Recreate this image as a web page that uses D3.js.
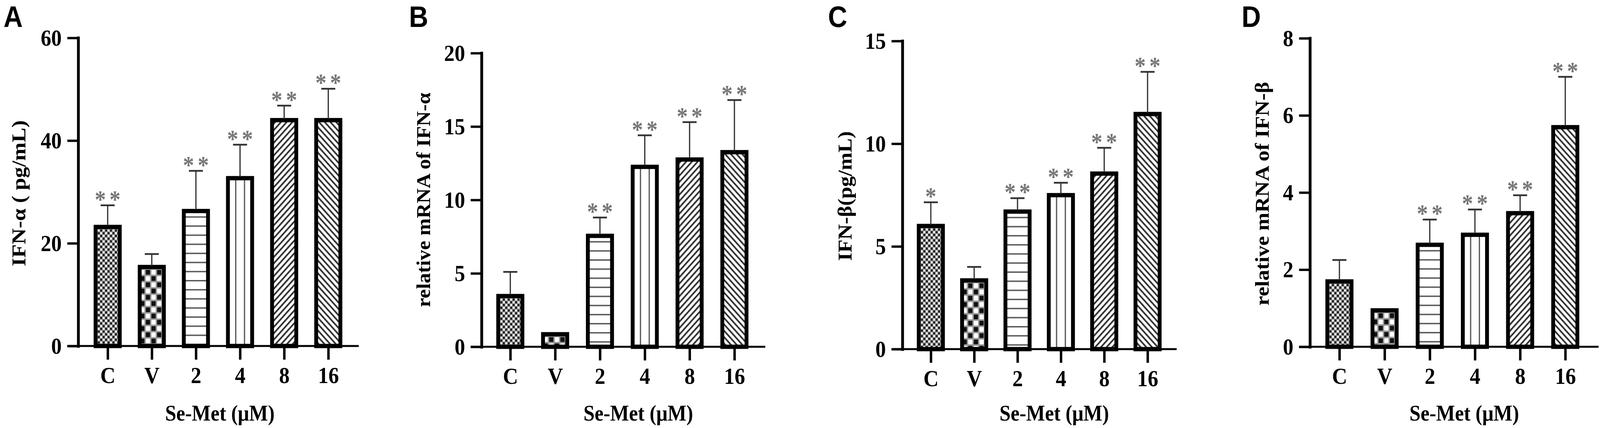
<!DOCTYPE html>
<meta charset="utf-8">
<head>
<style>
html, body { margin: 0; padding: 0; background: #fff; overflow: hidden; }
#chart svg { display: block; width: 100vw; height: 100vh; }
text { font-family: "Liberation Serif", "Times New Roman", serif; font-weight: bold; fill: #000; }
.letter { font-family: "Liberation Sans", Arial, sans-serif; font-size: 76px; }
.tick text { font-size: 60px; }
.stars { fill: #777; font-size: 64px; }
</style>
</head>
<body>
<div id="chart"></div>
<script src="https://d3js.org/d3.v7.min.js"></script>
<script>

// groups on the x axis
var groups = ["C", "V", "2", "4", "8", "16"];

// A: IFN-a protein
var meanA = [23.6, 15.8, 26.7, 33.1, 44.4, 44.4];
var sdA = [3.8, 2.1, 7.4, 6.1, 2.4, 5.7];
var starsA = ["**", "", "**", "**", "**", "**"];
var ticksA = [0, 20, 40, 60];

// B: IFN-a mRNA
var meanB = [3.6, 1.0, 7.7, 12.4, 12.9, 13.4];
var sdB = [1.5, 0, 1.1, 2.0, 2.4, 3.4];
var starsB = ["", "", "**", "**", "**", "**"];
var ticksB = [0, 5, 10, 15, 20];

// C: IFN-b protein
var meanC = [6.1, 3.45, 6.8, 7.6, 8.65, 11.55];
var sdC = [1.05, 0.55, 0.55, 0.5, 1.15, 1.95];
var starsC = ["*", "", "**", "**", "**", "**"];
var ticksC = [0, 5, 10, 15];

// D: IFN-b mRNA
var meanD = [1.75, 1.0, 2.7, 2.96, 3.52, 5.75];
var sdD = [0.5, 0, 0.6, 0.6, 0.41, 1.25];
var starsD = ["", "", "**", "**", "**", "**"];
var ticksD = [0, 2, 4, 6, 8];

var letters = ["A", "B", "C", "D"];
var yTitles = ["IFN-\u03b1 ( pg/mL)", "relative mRNA of IFN-\u03b1", "IFN-\u03b2(pg/mL)", "relative mRNA of IFN-\u03b2"];
var xTitle = "Se-Met (\u03bcM)";

// layout of each panel (pixels)
var layout = [
  {ax: 223, y0: 886, yTop: 97, x0: 307, x1: 936, xEnd: 1023, bx: 72, cy: 495, tlen: 374, xt: 627, lx: 10},
  {ax: 1373, y0: 888, yTop: 136, x0: 1455, x1: 2094, xEnd: 2182, bx: 1226, cy: 512, tlen: 549, xt: 1820, lx: 1166},
  {ax: 2573, y0: 894, yTop: 105, x0: 2654, x1: 3272, xEnd: 3355, bx: 2428, cy: 502, tlen: 332, xt: 3006, lx: 2361},
  {ax: 3735, y0: 888, yTop: 98, x0: 3819, x1: 4463, xEnd: 4558, bx: 3618, cy: 496, tlen: 573, xt: 4175, lx: 3540}
];

var panels = [
  {mean: meanA, sd: sdA, stars: starsA, ticks: ticksA},
  {mean: meanB, sd: sdB, stars: starsB, ticks: ticksB},
  {mean: meanC, sd: sdC, stars: starsC, ticks: ticksC},
  {mean: meanD, sd: sdD, stars: starsD, ticks: ticksD}
];

var barW = 80, border = 11, tickLen = 31, capW = 40;

var svg = d3.select("#chart")
  .append("svg")
    .attr("viewBox", "0 0 4562 1096")
    .attr("preserveAspectRatio", "none");

var defs = svg.append("defs");

// one fill pattern per bar, anchored to the inner corner of the bar
function makePattern(id, kind, ox, oy) {
  var p = defs.append("pattern")
    .attr("id", id)
    .attr("patternUnits", "userSpaceOnUse");
  if (kind == 0) {            // fine dotted checker
    p.attr("width", 14).attr("height", 14)
     .attr("patternTransform", "translate(" + ox + "," + oy + ")");
    p.append("rect").attr("width", 14).attr("height", 14).attr("fill", "#8a8a8a");
    p.append("rect").attr("x", 1).attr("y", 1).attr("width", 5).attr("height", 5).attr("fill", "#fff");
    p.append("rect").attr("x", 8).attr("y", 8).attr("width", 5).attr("height", 5).attr("fill", "#fff");
    p.append("rect").attr("x", 8).attr("y", 1).attr("width", 5).attr("height", 5).attr("fill", "#111");
    p.append("rect").attr("x", 1).attr("y", 8).attr("width", 5).attr("height", 5).attr("fill", "#111");
  } else if (kind == 1) {     // large checkerboard
    p.attr("width", 32).attr("height", 32)
     .attr("patternTransform", "translate(" + (ox - 6) + "," + oy + ")");
    p.append("rect").attr("width", 32).attr("height", 32).attr("fill", "#9a9a9a");
    p.append("rect").attr("x", 2).attr("y", 2).attr("width", 12).attr("height", 12).attr("fill", "#fff");
    p.append("rect").attr("x", 18).attr("y", 18).attr("width", 12).attr("height", 12).attr("fill", "#fff");
    p.append("rect").attr("x", 18).attr("y", 2).attr("width", 12).attr("height", 12).attr("fill", "#111");
    p.append("rect").attr("x", 2).attr("y", 18).attr("width", 12).attr("height", 12).attr("fill", "#111");
  } else if (kind == 2) {     // horizontal lines
    p.attr("width", 20).attr("height", 23.3)
     .attr("patternTransform", "translate(" + ox + "," + (oy + 8) + ")");
    p.append("rect").attr("width", 20).attr("height", 23.3).attr("fill", "#fff");
    p.append("rect").attr("width", 20).attr("height", 3.5).attr("fill", "#555");
  } else if (kind == 3) {     // vertical lines
    p.attr("width", 25).attr("height", 20)
     .attr("patternTransform", "translate(" + ox + "," + oy + ")");
    p.append("rect").attr("width", 25).attr("height", 20).attr("fill", "#fff");
    p.append("rect").attr("x", 15).attr("width", 3.5).attr("height", 20).attr("fill", "#555");
  } else {                    // diagonal lines, "/" or "\"
    var ang = kind == 4 ? 45 : -45;
    p.attr("width", 11.5).attr("height", 20)
     .attr("patternTransform", "translate(" + ox + "," + oy + ") rotate(" + ang + ")");
    p.append("rect").attr("width", 11.5).attr("height", 20).attr("fill", "#fff");
    p.append("rect").attr("width", 4.5).attr("height", 20).attr("fill", "#333");
  }
}

panels.forEach(function(pd, k) {
  var L = layout[k];
  var g = svg.append("g");

  var y = d3.scaleLinear()
    .domain([0, d3.max(pd.ticks)])
    .range([L.y0, L.yTop]);
  var x = d3.scalePoint()
    .domain(groups)
    .range([L.x0, L.x1]);

  // panel letter
  g.append("text")
    .attr("class", "letter")
    .attr("x", L.lx)
    .attr("y", 69)
    .text(letters[k]);

  // bars
  var rows = groups.map(function(d, i) {
    return {grp: d, i: i, mean: pd.mean[i], sd: pd.sd[i], star: pd.stars[i]};
  });

  rows.forEach(function(r) {
    var left = x(r.grp) - barW / 2;
    makePattern("pat" + k + "_" + r.i, r.i, left + border, y(r.mean) + border);
  });

  g.append("g")
    .selectAll("rect")
    .data(rows)
    .enter()
    .append("rect")
      .attr("x", function(d) { return x(d.grp) - barW / 2 + border / 2; })
      .attr("y", function(d) { return y(d.mean) + border / 2; })
      .attr("width", barW - border)
      .attr("height", function(d) { return L.y0 - y(d.mean) - border / 2; })
      .attr("fill", function(d) { return "url(#pat" + k + "_" + d.i + ")"; })
      .attr("stroke", "#000")
      .attr("stroke-width", border);

  // error bars (upper only)
  var err = g.append("g")
    .selectAll("g")
    .data(rows.filter(function(d) { return d.sd > 0; }))
    .enter()
    .append("g");
  err.append("line")
    .attr("x1", function(d) { return x(d.grp); })
    .attr("x2", function(d) { return x(d.grp); })
    .attr("y1", function(d) { return y(d.mean) + 2; })
    .attr("y2", function(d) { return y(d.mean + d.sd); })
    .attr("stroke", "#333")
    .attr("stroke-width", 3.5);
  err.append("line")
    .attr("x1", function(d) { return x(d.grp) - capW / 2; })
    .attr("x2", function(d) { return x(d.grp) + capW / 2; })
    .attr("y1", function(d) { return y(d.mean + d.sd); })
    .attr("y2", function(d) { return y(d.mean + d.sd); })
    .attr("stroke", "#333")
    .attr("stroke-width", 4.5);

  // significance stars
  rows.forEach(function(r) {
    if (!r.star) return;
    var top = y(r.mean + r.sd);
    var offs = r.star.length == 2 ? [-21, 21] : [0];
    offs.forEach(function(o) {
      g.append("text")
        .attr("class", "stars")
        .attr("x", x(r.grp) + o)
        .attr("y", top + 6)
        .attr("text-anchor", "middle")
        .text("*");
    });
  });

  // y axis
  var gy = g.append("g")
    .attr("transform", "translate(" + L.ax + ",0)")
    .call(d3.axisLeft(y).tickValues(pd.ticks).tickSize(tickLen).tickSizeOuter(0).tickPadding(16));
  gy.select(".domain").attr("stroke-width", 8).attr("stroke-linecap", "square");
  gy.selectAll(".tick line").attr("stroke-width", 6);
  gy.selectAll(".tick text").attr("fill", "#000");

  // x axis
  var gx = g.append("g")
    .attr("transform", "translate(0," + L.y0 + ")")
    .call(d3.axisBottom(x).tickSize(35).tickPadding(17));
  gx.select(".domain").remove();
  gx.selectAll(".tick line").attr("stroke-width", 7);
  gx.selectAll(".tick text").attr("fill", "#000");
  g.append("line")
    .attr("x1", L.ax - tickLen)
    .attr("x2", L.xEnd)
    .attr("y1", L.y0)
    .attr("y2", L.y0)
    .attr("stroke", "#000")
    .attr("stroke-width", 5);

  // axis titles
  g.append("text")
    .attr("transform", "translate(" + L.bx + "," + L.cy + ") rotate(-90)")
    .attr("text-anchor", "middle")
    .attr("font-size", 56)
    .attr("textLength", L.tlen)
    .attr("lengthAdjust", "spacingAndGlyphs")
    .text(yTitles[k]);

  g.append("text")
    .attr("x", L.xt)
    .attr("y", 1077)
    .attr("text-anchor", "middle")
    .attr("font-size", 57)
    .text(xTitle);
});

</script>
</body>
